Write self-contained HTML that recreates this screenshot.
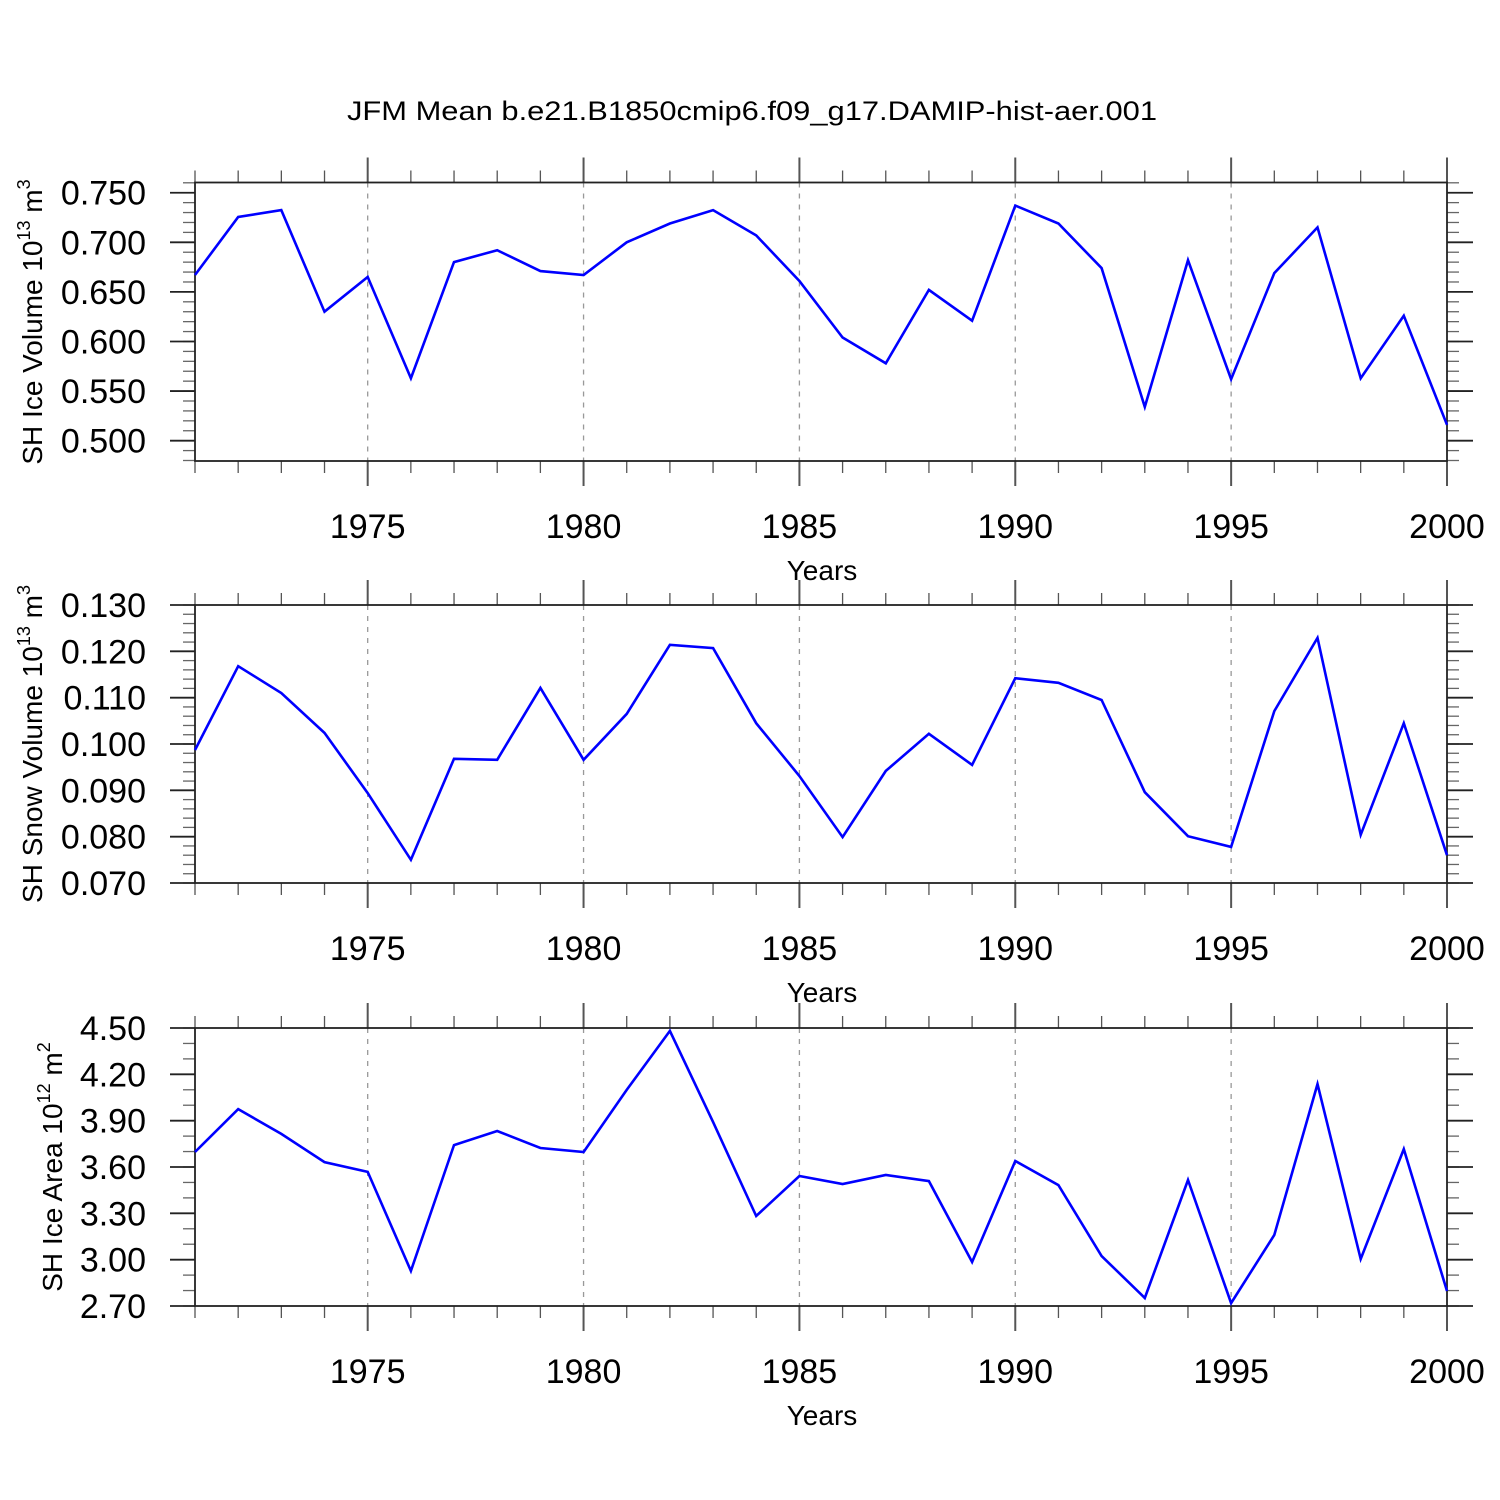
<!DOCTYPE html>
<html><head><meta charset="utf-8"><style>
html,body{margin:0;padding:0;background:#fff;}
svg{display:block;font-family:"Liberation Sans",Arial,sans-serif;}
</style></head><body>
<svg id="chart" width="1500" height="1500" viewBox="0 0 1500 1500" xmlns="http://www.w3.org/2000/svg">
<text x="752" y="120" font-size="27" text-anchor="middle" textLength="810" lengthAdjust="spacingAndGlyphs">JFM Mean b.e21.B1850cmip6.f09_g17.DAMIP-hist-aer.001</text>
</svg>
<script>
const years = [1971,1972,1973,1974,1975,1976,1977,1978,1979,1980,1981,1982,1983,1984,1985,1986,1987,1988,1989,1990,1991,1992,1993,1994,1995,1996,1997,1998,1999,2000];
const iceVolume = [0.667,0.7255,0.7325,0.630,0.665,0.563,0.680,0.692,0.671,0.667,0.700,0.719,0.7325,0.707,0.661,0.604,0.578,0.652,0.621,0.737,0.719,0.674,0.534,0.682,0.562,0.669,0.715,0.563,0.626,0.516];
const snowVolume = [0.0987,0.1168,0.1110,0.1024,0.0894,0.0750,0.0968,0.0966,0.1121,0.0966,0.1065,0.1214,0.1207,0.1045,0.0931,0.0799,0.0942,0.1022,0.0955,0.1142,0.1132,0.1095,0.0896,0.0801,0.0778,0.1071,0.1229,0.0804,0.1045,0.0760];
const iceArea = [3.697,3.975,3.814,3.632,3.568,2.927,3.742,3.833,3.723,3.697,4.099,4.481,3.891,3.283,3.542,3.490,3.548,3.509,2.985,3.639,3.483,3.024,2.752,3.516,2.719,3.160,4.137,3.004,3.716,2.797];
const yearTicks = [1975,1980,1985,1990,1995,2000];
const iceVolTicks = ["0.500","0.550","0.600","0.650","0.700","0.750"];
const snowTicks = ["0.070","0.080","0.090","0.100","0.110","0.120","0.130"];
const areaTicks = ["2.70","3.00","3.30","3.60","3.90","4.20","4.50"];

const NS="http://www.w3.org/2000/svg";
const svg=document.getElementById('chart');
function mk(tag,attrs,parent){const e=document.createElementNS(NS,tag);for(const k in attrs)e.setAttribute(k,attrs[k]);(parent||svg).appendChild(e);return e;}

const X0=195,X1=1447;
function xs(yr){return X0+(yr-1971)*(X1-X0)/29;}

const panels=[
 {key:'ice-volume',top:182.5,bot:461,ymin:0.4795,ymax:0.7603,ticks:iceVolTicks,minor:0.01,minStart:0.48,data:iceVolume,title:'SH Ice Volume 10',sup:'13',unit:' m',usup:'3',tx:32,cy:322},
 {key:'snow-volume',top:605,bot:883,ymin:0.070,ymax:0.130,ticks:snowTicks,minor:0.002,minStart:0.070,data:snowVolume,title:'SH Snow Volume 10',sup:'13',unit:' m',usup:'3',tx:32,cy:744},
 {key:'ice-area',top:1028,bot:1306,ymin:2.70,ymax:4.50,ticks:areaTicks,minor:0.1,minStart:2.70,data:iceArea,title:'SH Ice Area 10',sup:'12',unit:' m',usup:'2',tx:52,cy:1167}
];

panels.forEach(p=>{
 const g=mk('g',{});
 
 
 const ys=v=>p.bot-(v-p.ymin)/(p.ymax-p.ymin)*(p.bot-p.top);
 for(let yr=1975;yr<=1995;yr+=5){
  const l=mk('line',{x1:xs(yr),x2:xs(yr),y1:p.top,y2:p.bot,stroke:'#999','stroke-width':1.3,'stroke-dasharray':'5,6'},g);
  
  
 }
 for(let yr=1971;yr<=2000;yr++){
  const x=xs(yr),maj=yr%5===0;
  const len=maj?25:12;
  mk('line',{x1:x,x2:x,y1:p.top-len,y2:p.top,stroke:'#555','stroke-width':maj?2:1.3},g);
  mk('line',{x1:x,x2:x,y1:p.bot,y2:p.bot+len,stroke:'#555','stroke-width':maj?2:1.3},g);
 }
 yearTicks.forEach(yr=>{
  const t=mk('text',{x:xs(yr),y:p.bot+77,'font-size':34,'text-anchor':'middle'},g);
  
  
  t.textContent=yr;
 });
 const xt=mk('text',{x:822,y:p.bot+119,'font-size':28,'text-anchor':'middle'},g);
 
 
 xt.textContent='Years';
 const n=Math.round((p.ymax-p.minStart)/p.minor);
 for(let i=0;i<=n;i++){
  const v=p.minStart+i*p.minor;
  if(v>p.ymax+1e-9)break;
  const y=ys(v);
  mk('line',{x1:X0-12,x2:X0,y1:y,y2:y,stroke:'#666','stroke-width':1.3},g);
  mk('line',{x1:X1,x2:X1+12,y1:y,y2:y,stroke:'#666','stroke-width':1.3},g);
 }
 p.ticks.forEach(lbl=>{
  const y=ys(parseFloat(lbl));
  mk('line',{x1:X0-25,x2:X0,y1:y,y2:y,stroke:'#222','stroke-width':1.8},g);
  mk('line',{x1:X1,x2:X1+26,y1:y,y2:y,stroke:'#222','stroke-width':1.8},g);
  const t=mk('text',{x:146,y:y+12,'font-size':34,'text-anchor':'end'},g);
  
  
  t.textContent=lbl;
 });
 const fr=mk('rect',{x:X0,y:p.top,width:X1-X0,height:p.bot-p.top,fill:'none',stroke:'#222','stroke-width':1.8},g);
 
 
 const pts=p.data.map((v,i)=>xs(years[i]).toFixed(1)+','+ys(v).toFixed(1)).join(' ');
 const pl=mk('polyline',{points:pts,fill:'none',stroke:'#0000ff','stroke-width':2.6,'stroke-linejoin':'miter'},g);
 
 
 const yt=mk('text',{x:0,y:0,'font-size':28,'text-anchor':'middle',transform:`translate(${p.tx+10},${p.cy}) rotate(-90)`},g);
 
 
 const s1=mk('tspan',{},yt);s1.textContent=p.title;
 const s2=mk('tspan',{'font-size':18,dy:-12},yt);s2.textContent=p.sup;
 const s3=mk('tspan',{dy:12},yt);s3.textContent=p.unit;
 const s4=mk('tspan',{'font-size':18,dy:-12},yt);s4.textContent=p.usup;
});
</script>
</body></html>
